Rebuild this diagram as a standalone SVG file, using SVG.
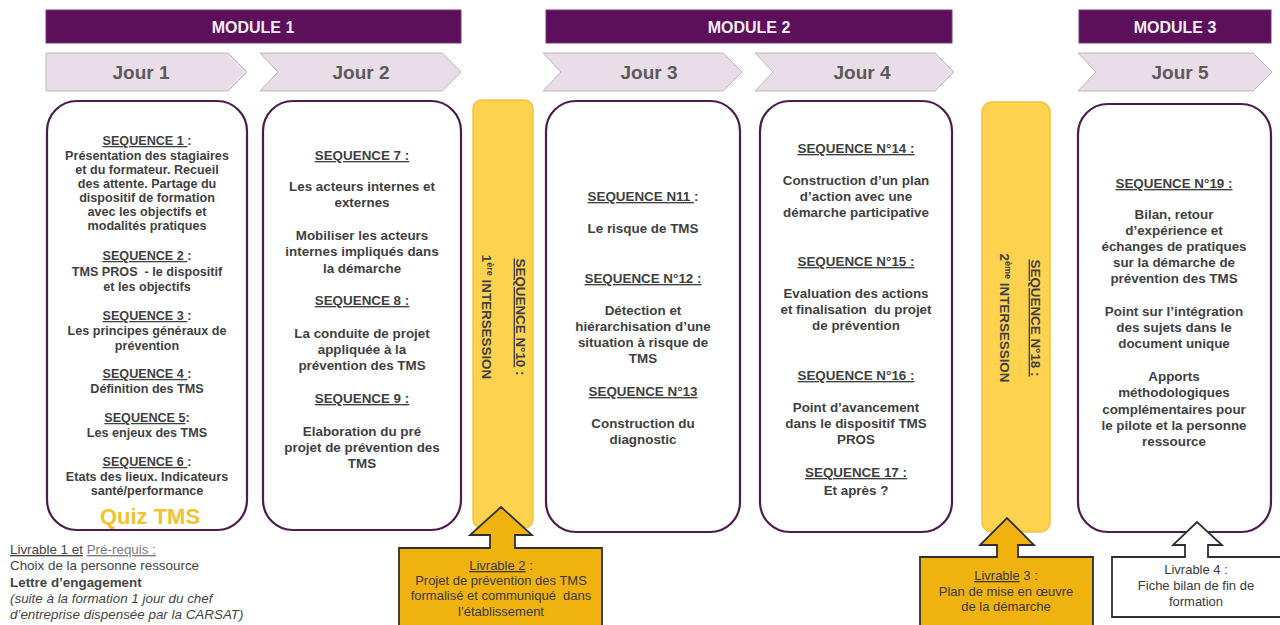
<svg xmlns="http://www.w3.org/2000/svg" width="1280" height="625" viewBox="0 0 1280 625">
<style>
.mod{fill:#5c0f5a;stroke:#7a3a78;stroke-width:1}
.modt{fill:#f4eef4;font-family:"Liberation Sans",Arial,sans-serif;font-weight:bold;font-size:16px;text-anchor:middle}
.jour{fill:#e9dde7;stroke:#bdb5bb;stroke-width:1}
.jourt{fill:#5a5a5a;font-family:"Liberation Sans",Arial,sans-serif;font-weight:bold;font-size:19px;text-anchor:middle}
.box{fill:#ffffff;stroke:#4d1c4f;stroke-width:2.2}
.ybar{fill:#fdd24f;stroke:#f2c23c;stroke-width:1.5}
.t{fill:#3f3f3f;font-family:"Liberation Sans",Arial,sans-serif;font-weight:bold;font-size:12.6px;text-anchor:middle}
.t2{fill:#3f3f3f;font-family:"Liberation Sans",Arial,sans-serif;font-weight:bold;font-size:13.4px;text-anchor:middle}
.u{text-decoration:underline}
.quiz{fill:#f2c230;font-family:"Liberation Sans",Arial,sans-serif;font-weight:bold;font-size:22px;text-anchor:middle}
.call{fill:#efb20f;stroke:#2f2f2f;stroke-width:1.8}
.callw{fill:#ffffff;stroke:#2f2f2f;stroke-width:1.8}
.ct{fill:#3a3a3a;font-family:"Liberation Sans",Arial,sans-serif;font-size:13px;text-anchor:middle}
.lt{fill:#444444;font-family:"Liberation Sans",Arial,sans-serif;font-size:13.4px}
</style>

<g id="modules">
  <rect class="mod" x="46" y="10" width="415" height="33"/>
  <text class="modt" x="253" y="33">MODULE 1</text>
  <rect class="mod" x="546" y="10" width="406" height="33"/>
  <text class="modt" x="749" y="33">MODULE 2</text>
  <rect class="mod" x="1079" y="10" width="192" height="33"/>
  <text class="modt" x="1175" y="33">MODULE 3</text>
</g>

<g id="jours">
  <polygon class="jour" points="46,53 228,53 247,72 228,91 46,91"/>
  <text class="jourt" x="141" y="79">Jour 1</text>
  <polygon class="jour" points="260,53 442,53 461,72 442,91 260,91 278,72"/>
  <text class="jourt" x="361" y="79">Jour 2</text>
  <polygon class="jour" points="543,53 723,53 742,72 723,91 543,91 561,72"/>
  <text class="jourt" x="649" y="79">Jour 3</text>
  <polygon class="jour" points="755,53 935,53 954,72 935,91 755,91 773,72"/>
  <text class="jourt" x="862" y="79">Jour 4</text>
  <polygon class="jour" points="1078,53 1253,53 1272,72 1253,91 1078,91 1096,72"/>
  <text class="jourt" x="1180" y="79">Jour 5</text>
</g>

<g id="jour1">
  <rect class="box" x="47" y="101" width="200" height="429" rx="30" ry="30"/>
  <text class="t"><tspan class="u" x="147" y="145">SEQUENCE 1 </tspan><tspan>:</tspan></text>
  <text class="t" x="147" y="160">Présentation des stagiaires</text>
  <text class="t" x="147" y="174">et du formateur. Recueil</text>
  <text class="t" x="147" y="188">des attente. Partage du</text>
  <text class="t" x="147" y="202">dispositif de formation</text>
  <text class="t" x="147" y="216">avec les objectifs et</text>
  <text class="t" x="147" y="230">modalités pratiques</text>
  <text class="t"><tspan class="u" x="147" y="260">SEQUENCE 2 </tspan><tspan>:</tspan></text>
  <text class="t" x="147" y="276" xml:space="preserve">TMS PROS  - le dispositif</text>
  <text class="t" x="147" y="291">et les objectifs</text>
  <text class="t"><tspan class="u" x="147" y="320">SEQUENCE 3 </tspan><tspan>:</tspan></text>
  <text class="t" x="147" y="335">Les principes généraux de</text>
  <text class="t" x="147" y="350">prévention</text>
  <text class="t"><tspan class="u" x="147" y="378">SEQUENCE 4 </tspan><tspan>:</tspan></text>
  <text class="t" x="147" y="393">Définition des TMS</text>
  <text class="t"><tspan class="u" x="147" y="422">SEQUENCE 5</tspan><tspan>:</tspan></text>
  <text class="t" x="147" y="437">Les enjeux des TMS</text>
  <text class="t"><tspan class="u" x="147" y="466">SEQUENCE 6 </tspan><tspan>:</tspan></text>
  <text class="t" x="147" y="481">Etats des lieux. Indicateurs</text>
  <text class="t" x="147" y="495">santé/performance</text>
  <text class="quiz" x="150" y="524">Quiz TMS</text>
</g>

<g id="jour2">
  <rect class="box" x="263" y="101" width="198" height="429" rx="30" ry="30"/>
  <text class="t2 u" x="362" y="160">SEQUENCE 7 :</text>
  <text class="t2" x="362" y="191">Les acteurs internes et</text>
  <text class="t2" x="362" y="207">externes</text>
  <text class="t2" x="362" y="240">Mobiliser les acteurs</text>
  <text class="t2" x="362" y="256">internes impliqués dans</text>
  <text class="t2" x="362" y="273">la démarche</text>
  <text class="t2 u" x="362" y="305">SEQUENCE 8 :</text>
  <text class="t2" x="362" y="338">La conduite de projet</text>
  <text class="t2" x="362" y="354">appliquée à la</text>
  <text class="t2" x="362" y="370">prévention des TMS</text>
  <text class="t2 u" x="362" y="403">SEQUENCE 9 :</text>
  <text class="t2" x="362" y="436">Elaboration du pré</text>
  <text class="t2" x="362" y="452">projet de prévention des</text>
  <text class="t2" x="362" y="468">TMS</text>
</g>

<g id="intersession1">
  <rect class="ybar" x="473" y="100" width="60" height="428" rx="9" ry="9"/>
  <g transform="translate(503,317) rotate(90)">
    <text class="t2" x="0" y="-13"><tspan class="u">SEQUENCE N°10</tspan><tspan> :</tspan></text>
    <text class="t2" x="0" y="21">1<tspan font-size="9" dy="-5">ère</tspan><tspan dy="5"> INTERSESSION</tspan></text>
  </g>
</g>

<g id="jour3">
  <rect class="box" x="546" y="101" width="194" height="431" rx="30" ry="30"/>
  <text class="t2"><tspan class="u" x="643" y="201">SEQUENCE N11 </tspan><tspan>:</tspan></text>
  <text class="t2" x="643" y="233">Le risque de TMS</text>
  <text class="t2 u" x="643" y="283">SEQUENCE N°12 :</text>
  <text class="t2" x="643" y="315">Détection et</text>
  <text class="t2" x="643" y="331">hiérarchisation d’une</text>
  <text class="t2" x="643" y="347">situation à risque de</text>
  <text class="t2" x="643" y="363">TMS</text>
  <text class="t2 u" x="643" y="396">SEQUENCE N°13</text>
  <text class="t2" x="643" y="428">Construction du</text>
  <text class="t2" x="643" y="444">diagnostic</text>
</g>

<g id="jour4">
  <rect class="box" x="760" y="101" width="192" height="431" rx="30" ry="30"/>
  <text class="t2 u" x="856" y="153">SEQUENCE N°14 :</text>
  <text class="t2" x="856" y="185">Construction d’un plan</text>
  <text class="t2" x="856" y="201">d’action avec une</text>
  <text class="t2" x="856" y="217">démarche participative</text>
  <text class="t2 u" x="856" y="266">SEQUENCE N°15 :</text>
  <text class="t2" x="856" y="298">Evaluation des actions</text>
  <text class="t2" x="856" y="314" xml:space="preserve">et finalisation  du projet</text>
  <text class="t2" x="856" y="330">de prévention</text>
  <text class="t2 u" x="856" y="380">SEQUENCE N°16 :</text>
  <text class="t2" x="856" y="412">Point d’avancement</text>
  <text class="t2" x="856" y="428">dans le dispositif TMS</text>
  <text class="t2" x="856" y="444">PROS</text>
  <text class="t2 u" x="856" y="477">SEQUENCE 17 :</text>
  <text class="t2" x="856" y="495">Et après ?</text>
</g>

<g id="intersession2">
  <rect class="ybar" x="982" y="102" width="68" height="430" rx="10" ry="10"/>
  <g transform="translate(1020,318) rotate(90)">
    <text class="t2" x="0" y="-11"><tspan class="u">SEQUENCE N°18 :</tspan></text>
    <text class="t2" x="0" y="20">2<tspan font-size="9" dy="-5">ème</tspan><tspan dy="5"> INTERSESSION</tspan></text>
  </g>
</g>

<g id="jour5">
  <rect class="box" x="1078" y="104" width="193" height="428" rx="30" ry="30"/>
  <text class="t2 u" x="1174" y="188">SEQUENCE N°19 :</text>
  <text class="t2" x="1174" y="219">Bilan, retour</text>
  <text class="t2" x="1174" y="235">d’expérience et</text>
  <text class="t2" x="1174" y="251">échanges de pratiques</text>
  <text class="t2" x="1174" y="267">sur la démarche de</text>
  <text class="t2" x="1174" y="283">prévention des TMS</text>
  <text class="t2" x="1174" y="316">Point sur l’intégration</text>
  <text class="t2" x="1174" y="332">des sujets dans le</text>
  <text class="t2" x="1174" y="348">document unique</text>
  <text class="t2" x="1174" y="381">Apports</text>
  <text class="t2" x="1174" y="397">méthodologiques</text>
  <text class="t2" x="1174" y="414">complémentaires pour</text>
  <text class="t2" x="1174" y="430">le pilote et la personne</text>
  <text class="t2" x="1174" y="446">ressource</text>
</g>

<g id="livrable1">
  <text class="lt" x="10" y="554"><tspan class="u">Livrable 1 et</tspan><tspan> </tspan><tspan class="u" fill="#7a7a7a">Pré-requis :</tspan></text>
  <text class="lt" x="10" y="570">Choix de la personne ressource</text>
  <text class="lt" x="10" y="587" font-weight="bold" fill="#333333">Lettre d’engagement</text>
  <text class="lt" x="10" y="603" font-style="italic">(suite à la formation 1 jour du chef</text>
  <text class="lt" x="10" y="619" font-style="italic">d’entreprise dispensée par la CARSAT)</text>
</g>

<g id="connectors">
  <path class="call" d="M399,548 H490 V535 H470 L501,507 L532,535 H515 V548 H602 V627 H399 Z"/>
  <path class="call" d="M920,557 H997 V545 H980 L1007,518 L1034,545 H1018 V557 H1093 V627 H920 Z"/>
  <path class="callw" d="M1112,557 H1185 V545 H1173 L1197,522 L1222,545 H1208 V557 H1282 V617 H1112 Z"/>
</g>

<g id="livrable2">
  <text class="ct"><tspan class="u" x="501" y="570">Livrable 2</tspan><tspan> :</tspan></text>
  <text class="ct" x="501" y="585">Projet de prévention des TMS</text>
  <text class="ct" x="501" y="600" xml:space="preserve">formalisé et communiqué  dans</text>
  <text class="ct" x="501" y="616">l’établissement</text>
</g>

<g id="livrable3">
  <text class="ct"><tspan class="u" x="1006" y="580">Livrable</tspan><tspan> 3 :</tspan></text>
  <text class="ct" x="1006" y="596">Plan de mise en œuvre</text>
  <text class="ct" x="1006" y="611">de la démarche</text>
</g>

<g id="livrable4">
  <text class="ct" x="1196" y="574">Livrable 4 :</text>
  <text class="ct" x="1196" y="590">Fiche bilan de fin de</text>
  <text class="ct" x="1196" y="606">formation</text>
</g>
</svg>
